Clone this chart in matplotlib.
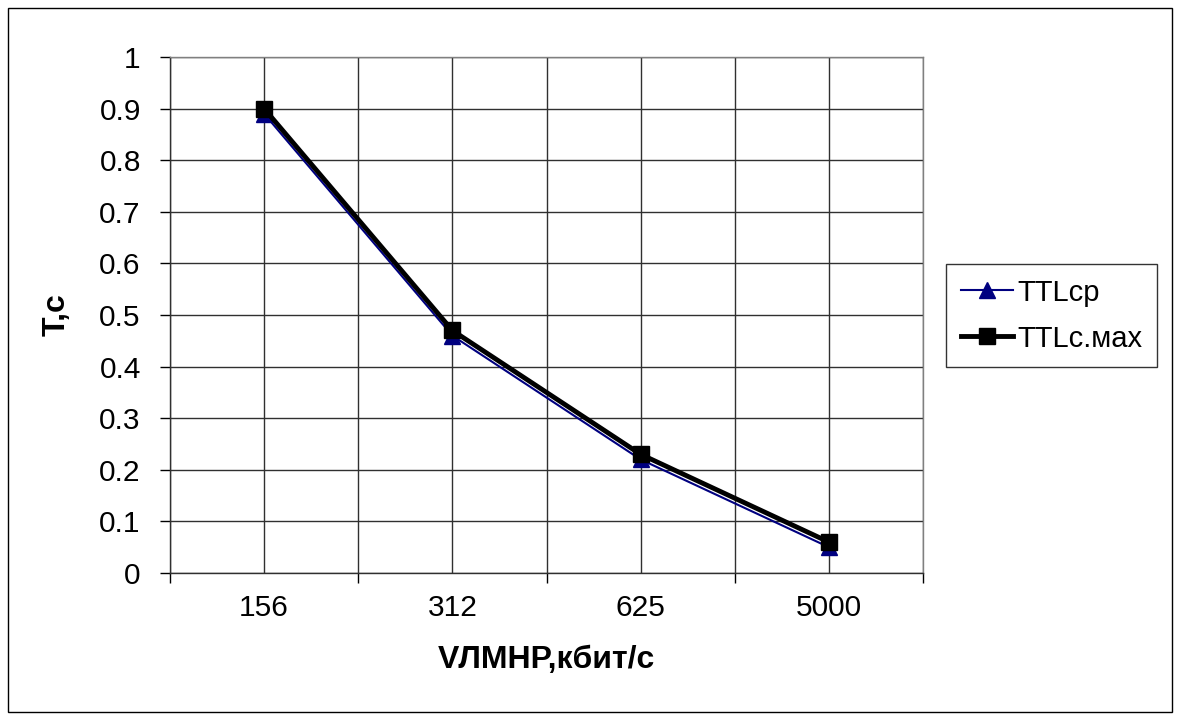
import matplotlib
matplotlib.use("Agg")
import matplotlib.pyplot as plt
from matplotlib.patches import Rectangle
import numpy as np

plt.rcParams['font.family'] = ['Liberation Sans', 'DejaVu Sans']

categories = ["156", "312", "625", "5000"]
ttl_cp = [0.89, 0.46, 0.22, 0.05]
ttl_max = [0.90, 0.47, 0.23, 0.06]
yticks = [0, 0.1, 0.2, 0.3, 0.4, 0.5, 0.6, 0.7, 0.8, 0.9, 1]

W, H = 1181, 720
fig = plt.figure(figsize=(W/100, H/100), dpi=100)
fig.patches.append(Rectangle((8/W, 8/H), (1172-8)/W, (712-8)/H, transform=fig.transFigure,
                             fill=False, edgecolor='black', linewidth=1))

left, right, top, bottom = 170, 923, 57, 573
ax = fig.add_axes([left/W, 1-bottom/H, (right-left)/W, (bottom-top)/H])

x = np.arange(len(categories))
ax.set_xlim(-0.5, len(categories)-0.5)
ax.set_ylim(0, 1)

ax.plot(x, ttl_cp, color='#000080', linewidth=1.5, marker='^', markersize=11, zorder=3, label='TTLcp')
ax.plot(x, ttl_max, color='black', linewidth=3.5, marker='s', markersize=12, zorder=4, label='TTLc.мах')

ax.set_yticks(yticks)
ax.set_yticklabels([f"{v:g}" for v in yticks])
ax.set_xticks(x)
ax.set_xticklabels(categories)
ax.set_xticks(np.arange(-0.5, len(categories), 1), minor=True)

ax.grid(True, which='major', axis='both', color='#303030', linewidth=1)
ax.grid(True, which='minor', axis='x', color='#303030', linewidth=1)
ax.set_axisbelow(True)

ax.tick_params(axis='y', which='major', direction='out', length=7, width=1, labelsize=21.5, pad=14)
ax.tick_params(axis='x', which='major', length=0, labelsize=21.5, pad=15)
ax.tick_params(axis='x', which='minor', direction='out', length=7, width=1)

for s in ['left', 'bottom']:
    ax.spines[s].set_color('#303030')
    ax.spines[s].set_linewidth(1)
for s in ['top', 'right']:
    ax.spines[s].set_color('#808080')
    ax.spines[s].set_linewidth(1)

ax.set_xlabel("VЛМНР,кбит/с", fontsize=23, fontweight='bold', labelpad=17)
ax.set_ylabel("T,c", fontsize=23, fontweight='bold', labelpad=20)

fs = 21
leg = ax.legend(loc='upper left', bbox_to_anchor=((946-left)/(right-left), 1-(264-top)/(bottom-top)),
                fontsize=fs, frameon=True, fancybox=False, edgecolor='black',
                handlelength=1.8, handletextpad=0.15, borderpad=0.5, labelspacing=0.62,
                borderaxespad=0, handleheight=0.8)
leg.get_frame().set_linewidth(1)

fig.savefig("out.png", dpi=100)
